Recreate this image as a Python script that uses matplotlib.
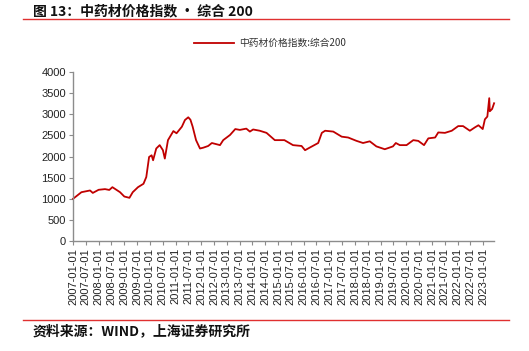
import matplotlib
matplotlib.use('Agg')
import matplotlib.pyplot as plt
import matplotlib.dates as mdates
import pandas as pd
from matplotlib.lines import Line2D

plt.rcParams['font.family'] = ['Noto Sans CJK SC', 'DejaVu Sans']

# 中药材价格指数:综合200
dates = ['2007-01-01', '2007-05-01', '2007-09-01', '2007-10-10', '2008-01-01', '2008-04-01',
         '2008-06-01', '2008-07-15', '2008-11-01', '2009-01-01', '2009-03-15', '2009-05-01',
         '2009-07-15', '2009-10-01', '2009-11-10', '2009-12-20', '2010-01-25', '2010-02-15',
         '2010-04-01', '2010-05-20', '2010-07-05', '2010-08-01', '2010-09-15', '2010-12-01',
         '2011-01-15', '2011-04-01', '2011-05-15', '2011-07-01', '2011-08-01', '2011-09-01',
         '2011-10-20', '2011-12-15', '2012-02-01', '2012-04-10', '2012-06-01', '2012-08-10',
         '2012-09-25', '2012-11-10', '2013-02-15', '2013-05-01', '2013-07-05', '2013-10-05',
         '2013-11-25', '2014-01-10', '2014-04-15', '2014-07-20', '2014-11-15', '2015-04-01',
         '2015-08-01', '2015-12-01', '2016-01-20', '2016-03-25', '2016-07-25', '2016-09-15',
         '2016-11-01', '2017-02-25', '2017-06-25', '2017-09-25', '2018-01-20', '2018-04-25',
         '2018-07-30', '2018-11-01', '2019-03-01', '2019-06-25', '2019-08-05', '2019-10-01',
         '2020-01-05', '2020-04-10', '2020-06-20', '2020-09-10', '2020-11-10', '2021-02-15',
         '2021-04-01', '2021-07-05', '2021-10-10', '2022-01-10', '2022-03-20', '2022-06-25',
         '2022-09-05', '2022-10-25', '2022-12-25', '2023-01-25', '2023-03-01', '2023-03-28',
         '2023-04-05', '2023-05-08', '2023-06-05']
values = [1000, 1157, 1198, 1140, 1214, 1230,
          1210, 1276, 1157, 1055, 1024, 1157,
          1276, 1356, 1515, 1990, 2030, 1912,
          2190, 2270, 2150, 1952, 2388, 2602,
          2550, 2705, 2864, 2928, 2870, 2710,
          2388, 2190, 2210, 2250, 2320, 2290,
          2270, 2388, 2510, 2650, 2630, 2660,
          2590, 2640, 2610, 2560, 2388, 2388,
          2270, 2250, 2150, 2210, 2320, 2560,
          2610, 2590, 2470, 2450, 2372, 2320,
          2360, 2240, 2173, 2240, 2320, 2270,
          2270, 2388, 2370, 2270, 2430, 2450,
          2570, 2560, 2610, 2720, 2720, 2610,
          2690, 2740, 2650, 2880, 2945, 3380,
          3070, 3125, 3260]

tick_dates = pd.date_range('2007-01-01', '2023-01-01', freq='6MS')
yticks = [0, 500, 1000, 1500, 2000, 2500, 3000, 3500, 4000]

x = pd.to_datetime(dates)

fig = plt.figure(figsize=(5.29, 3.51), dpi=100)
ax = fig.add_axes([0.138, 0.313, 0.796, 0.482])

ax.plot(x, values, color='#C00000', linewidth=1.3, label='中药材价格指数:综合200', clip_on=False)

ax.set_ylim(0, 4000)
ax.set_yticks(yticks)
ax.set_xlim(pd.Timestamp('2007-01-01'), x[-1])
ax.set_xticks(tick_dates)
ax.set_xticklabels([d.strftime('%Y-%m-%d') for d in tick_dates], rotation=90,
                   family=['Liberation Sans', 'DejaVu Sans'], fontsize=8, color='#222222')
for lab in ax.get_yticklabels():
    lab.set_family(['Liberation Sans', 'DejaVu Sans'])
    lab.set_fontsize(8)
    lab.set_color('#222222')

for s in ['top', 'right']:
    ax.spines[s].set_visible(False)
for s in ['left', 'bottom']:
    ax.spines[s].set_color('#8c8c8c')
    ax.spines[s].set_linewidth(1.0)
ax.tick_params(axis='both', direction='out', length=3, width=0.8, color='#8c8c8c', pad=2)

leg = fig.legend(loc='center', bbox_to_anchor=(0.51, 0.877), frameon=False, fontsize=7,
                 handlelength=4.2, handletextpad=0.5)
for t in leg.get_texts():
    t.set_color('#333333')

fig.text(0.062, 0.969, '图 13：中药材价格指数 • 综合 200', fontsize=10, fontweight='bold',
         va='center', ha='left', color='#111111')
fig.add_artist(Line2D([0.043, 0.962], [0.946, 0.946], color='#E03030', linewidth=1.0))
fig.add_artist(Line2D([0.043, 0.962], [0.088, 0.088], color='#E03030', linewidth=1.0))
fig.text(0.062, 0.057, '资料来源：WIND，上海证券研究所', fontsize=10, fontweight='bold',
         style='italic', va='center', ha='left', color='#111111')

fig.savefig('out.png', dpi=100)
